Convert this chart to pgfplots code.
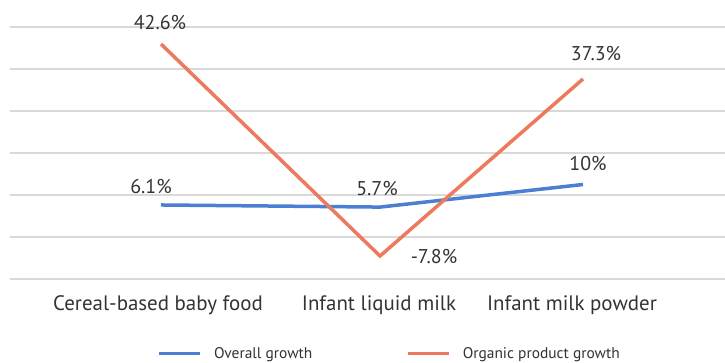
\documentclass[border=0pt]{standalone}
\usepackage{pgfplots}
\pgfplotsset{compat=1.18}
\usepackage{fontspec}
\setmainfont{PT Sans}
\definecolor{blueline}{HTML}{4A7FD3}
\definecolor{orangeline}{HTML}{EC7A5F}
\definecolor{gridgray}{HTML}{D9D9D9}
\definecolor{txt}{HTML}{333333}
\begin{document}
\begin{tikzpicture}
\begin{axis}[
  scale only axis,
  width=715bp, height=252bp,
  xmin=10, xmax=725,
  ymin=-8, ymax=40,
  ytick={-8,0,...,40},
  yticklabels={},
  ymajorgrids,
  grid style={gridgray, line width=1.3bp},
  axis line style={draw=none},
  major tick style={draw=none},
  xtick={158,379,572},
  xticklabels={Cereal-based baby food, Infant liquid milk, Infant milk powder},
  xticklabel style={font=\fontsize{21}{24}\selectfont, text=txt, yshift=-13bp},
  clip=false,
  legend style={draw=none, at={(0.531,-0.295)}, anchor=center,
    font=\fontsize{15.5}{18}\selectfont, text=txt, legend columns=2,
    /tikz/every odd column/.append style={column sep=10bp},
    /tikz/every even column/.append style={column sep=92bp}},
  legend image code/.code={\draw[#1, line width=3.5bp] (0bp,0bp) -- (41bp,0bp);},
  point meta=explicit symbolic,
  visualization depends on={value \thisrow{dx} \as \dx},
  visualization depends on={value \thisrow{dy} \as \dy},
  nodes near coords={\pgfplotspointmeta\%},
  every node near coord/.append style={font=\fontsize{20}{22}\selectfont, text=txt, anchor=center, xshift=\dx bp, yshift=\dy bp},
]
\addplot[blueline, line width=3.5bp] table[x=x, y=y, meta=lab] {
x y lab dx dy
161 6.1 6.1 -10 18
380 5.7 5.7 -3 19
583 10 10 5 21
};
\addlegendentry{Overall growth}
\addplot[orangeline, line width=3.5bp] table[x=x, y=y, meta=lab] {
x y lab dx dy
161 36.76 42.6 -1 21
380 -3.62 -7.8 54 -1
583 30.1 37.3 13 25
};
\addlegendentry{Organic product growth}
\end{axis}
\pgfresetboundingbox
\useasboundingbox ([xshift=-10bp,yshift=-84bp]current axis.south west) rectangle ([yshift=27bp]current axis.north east);
\end{tikzpicture}
\end{document}
